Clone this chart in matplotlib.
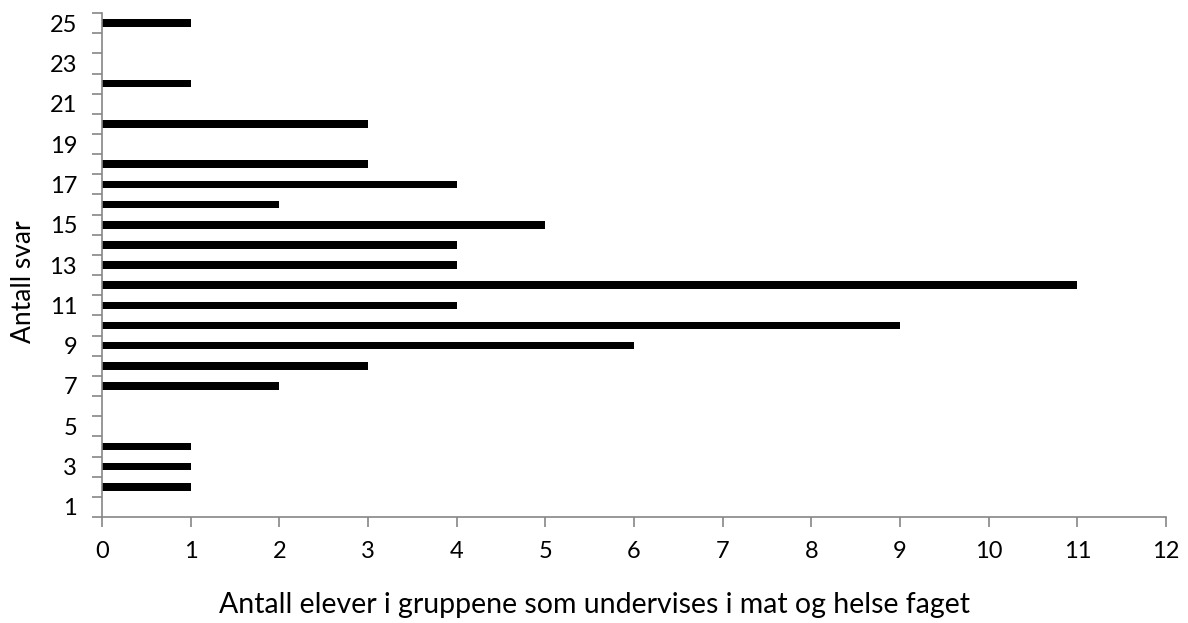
import numpy as np
import matplotlib.pyplot as plt
from matplotlib.ticker import FixedLocator, NullFormatter

# Antall svar (kategori) og antall elever
categories = list(range(1, 26))
values = [0, 1, 1, 1, 0, 0, 2, 3, 6, 9, 4, 11, 4, 4, 5, 2, 4, 3, 0, 3, 0, 1, 0, 0, 1]
xlabel = "Antall elever i gruppene som undervises i mat og helse faget"
ylabel = "Antall svar"

plt.rcParams['font.family'] = ['Lato', 'DejaVu Sans']

fig = plt.figure(figsize=(11.88, 6.23), dpi=100)
ax = fig.add_axes([0.0859, 0.1701, 0.8956, 0.8090])

ax.barh(categories, values, height=0.38, color='black')

ax.set_xlim(0, 12)
ax.set_ylim(0.5, 25.5)
ax.set_xticks(range(0, 13))

# ticks between categories, labels on odd categories
ax.yaxis.set_major_locator(FixedLocator(np.arange(0.5, 26, 1)))
ax.yaxis.set_major_formatter(NullFormatter())
ax.yaxis.set_minor_locator(FixedLocator(categories[::2]))
ax.set_yticklabels([str(c) for c in categories[::2]], minor=True)
ax.tick_params(axis='y', which='major', length=7, width=1.2, color='#868686')
ax.tick_params(axis='y', which='minor', length=0, pad=18, labelsize=17)
ax.tick_params(axis='x', length=7, width=1.2, color='#868686', pad=10, labelsize=17)

for s in ['top', 'right']:
    ax.spines[s].set_visible(False)
for s in ['left', 'bottom']:
    ax.spines[s].set_color('#868686')
    ax.spines[s].set_linewidth(1.2)

ax.set_xlabel(xlabel, fontsize=20.5)
ax.xaxis.set_label_coords(0.463, -0.148)
ax.set_ylabel(ylabel, fontsize=19, labelpad=10)
ax.yaxis.label.set_y(0.466)

fig.savefig('out.png', dpi=100)
